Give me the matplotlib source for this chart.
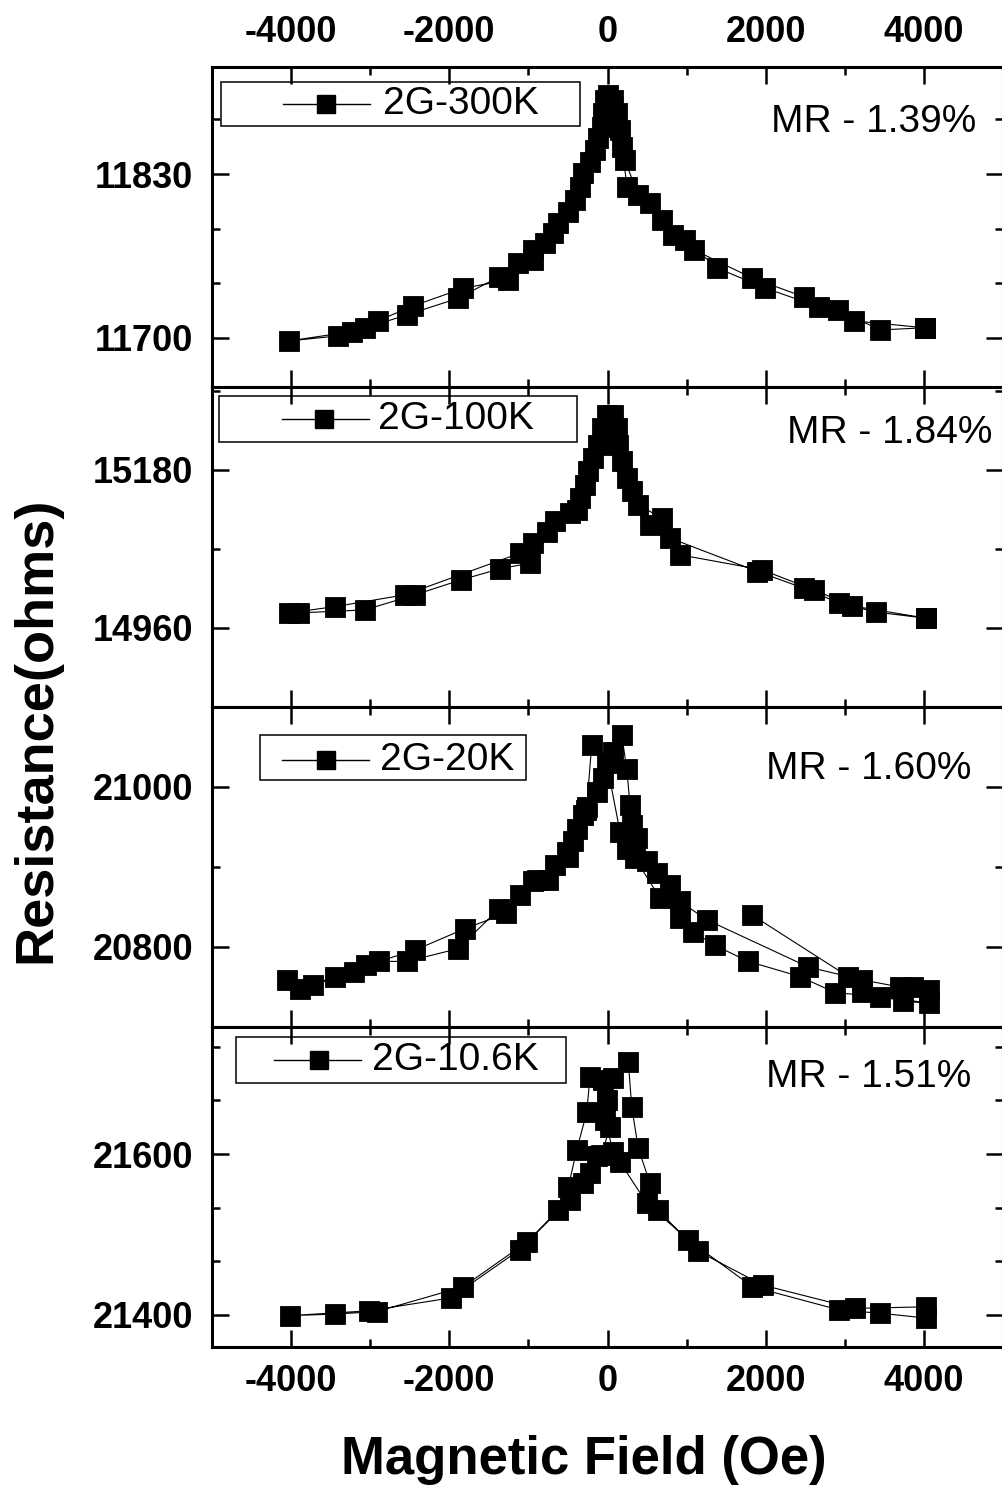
import matplotlib
matplotlib.use("Agg")
import matplotlib.pyplot as plt
from matplotlib.patches import Rectangle
from matplotlib.ticker import MultipleLocator

plt.rcParams['font.family'] = ['Liberation Sans', 'DejaVu Sans']
plt.rcParams['axes.unicode_minus'] = False

# 2G-300K : sweep down (+ -> -) then back up (- -> +)
field_300K = [4014, 3116, 2674, 1991, 1384, 980, 689, 386, 221, 158, 70, 6, -57, -120,
              -221, -348, -499, -689, -942, -1254, -1823, -2455, -2898, -3234, -4023,
              -3403, -3066, -2539, -1886, -1368, -1128, -938, -790, -626, -411, -310,
              -158, -70, -32, 120, 183, 247, 537, 828, 1094, 1827, 2484, 2914, 3445, 4014]
res_300K = [11708, 11713.5, 11724.6, 11739.6, 11755.5, 11777.7, 11793.5, 11813.4, 11841,
            11865, 11888.7, 11892.6, 11878.4, 11858.5, 11839.5, 11819.7, 11800, 11783.2,
            11769.8, 11746, 11739.4, 11725.4, 11713.7, 11705, 11697.6,
            11701.6, 11707.7, 11718.2, 11731.5, 11748.6, 11759.2, 11761.8, 11775.3,
            11791.2, 11809.4, 11830.8, 11849, 11867.3, 11888.7, 11878.4, 11851.4, 11820,
            11807, 11781.6, 11769.8, 11747.6, 11732.5, 11722.2, 11706.3, 11708]

# 2G-100K
field_100K = [4030, 3091, 2608, 1953, 917, 685, 389, 243, 137, 73, -73, -180, -284, -386,
              -664, -938, -980, -1359, -1852, -2434, -3069, -3900, -4026,
              -3439, -2560, -1106, -769, -474, -348, -243, -116, -10, 116, 180, 306, 537,
              790, 1896, 2479, 2932, 3397, 4030]
res_100K = [14973.5, 14990.6, 15012.9, 15040.8, 15061.6, 15112.7, 15131.3, 15168.4,
            15214.8, 15256.6, 15238, 15196.3, 15159, 15124.3, 15108, 15078, 15050,
            15042.2, 15026.8, 15006, 14985, 14980.9, 14980.9,
            14989.7, 15006, 15064, 15094, 15120, 15140.6, 15177.6, 15214.8, 15256.6,
            15238, 15191.6, 15149.8, 15103.4, 15084.9, 15038.4, 15015.3, 14994.4,
            14981.9, 14973.5]

# 2G-20K : short start segment, sweep down, sweep up
field_20K = [1827, 3044, 3214, 3740, 4060,
             3445, 2876, 2434, 1780, 1359, 1085, 917, 664, 348, 243, 158, -10, -200,
             -263, -306, -389, -432, -516, -664, -895, -1106, -1284, -1801, -2436, -3053,
             -3439, -3891, -4052,
             -3729, -3211, -2889, -2535, -1886, -1369, -948, -755, -496, -269, -137, -53,
             73, 180, 243, 284, 306, 369, 496, 622, 790, 917, 1254, 2538, 3214, 3698,
             3866, 4060]
res_20K = [20840, 20763, 20744, 20732, 20730,
           20738, 20743, 20763, 20782, 20802, 20819, 20836, 20861, 20911, 20923, 20944,
           21030, 21052, 20975, 20965, 20948, 20932, 20919, 20902, 20884, 20865, 20842,
           20823, 20796, 20777, 20763, 20748, 20759,
           20752, 20769, 20782, 20782, 20798, 20848, 20882, 20884, 20913, 20971, 20994,
           21011, 21044, 21065, 21023, 20978, 20953, 20936, 20907, 20892, 20878, 20857,
           20834, 20775, 20759, 20750, 20750, 20746]

# 2G-10.6K
field_10K = [4030, 3449, 2932, 1832, 1024, 496, 158, 73, -32, -53, -221, -263, -389,
             -496, -626, -1110, -1984, -3018, -4020,
             -3439, -2920, -1822, -1013, -474, -306, -221, -137, -76, 32, -10, 73, 263,
             306, 389, 537, 642, 1148, 1962, 3125, 4030]
res_10K = [21396, 21402, 21406, 21435, 21493, 21539, 21590, 21603, 21642, 21692, 21696,
           21652, 21605, 21559, 21530, 21481, 21421, 21405, 21399,
           21401, 21404, 21435, 21491, 21543, 21564, 21576, 21597, 21599, 21634, 21667,
           21694, 21715, 21659, 21607, 21564, 21530, 21479, 21437, 21408, 21410]

labels = ['2G-300K', '2G-100K', '2G-20K', '2G-10.6K']
mr_text = ['MR - 1.39%', 'MR - 1.84%', 'MR - 1.60%', 'MR - 1.51%']
fields = [field_300K, field_100K, field_20K, field_10K]
resist = [res_300K, res_100K, res_20K, res_10K]

ylims = [(11661, 11915), (14850, 15295), (20700, 21100), (21360, 21758)]
y_major = [130, 220, 200, 200]
y_minor = [130 / 3, 110, 100, 200 / 3]

# legend box (x0, y0, x1, y1), handle (x0, x1, marker x, y), text x  -- axes fraction
key_box = [(0.0114, 0.816, 0.4652, 0.953), (0.0088, 0.828, 0.4614, 0.972),
           (0.0607, 0.772, 0.397, 0.9125), (0.0303, 0.825, 0.4475, 0.969)]
key_handle = [(0.0898, 0.1997, 0.1441, 0.884), (0.0885, 0.1985, 0.142, 0.90),
              (0.0885, 0.1985, 0.1441, 0.834), (0.0784, 0.1884, 0.1353, 0.897)]
key_text_x = [0.2162, 0.2099, 0.2124, 0.2023]
mr_pos = [(0.707, 0.828), (0.727, 0.856), (0.700, 0.806), (0.700, 0.844)]


def add_key(ax, box, handle, text_x, label):
    """Draw an Origin style legend box by hand"""
    x0, y0, x1, y1 = box
    ax.add_patch(Rectangle((x0, y0), x1 - x0, y1 - y0, transform=ax.transAxes,
                           fill=False, ec='black', lw=1.1, zorder=5, clip_on=False))
    hx0, hx1, hm, hy = handle
    ax.plot([hx0, hx1], [hy, hy], transform=ax.transAxes, color='black', lw=1, zorder=5)
    ax.plot([hm], [hy], 's', transform=ax.transAxes, color='black', ms=12.5, zorder=6)
    ax.text(text_x, hy, label, transform=ax.transAxes, fontsize=28, va='center', ha='left')


fig = plt.figure(figsize=(10.02, 14.88), dpi=100)
left = 212 / 1002
width = 791 / 1002
panel_h = 320 / 1488
bottom0 = 1 - 1347 / 1488

axes = []
for i in range(4):
    ax = fig.add_axes([left, bottom0 + (3 - i) * panel_h, width, panel_h])
    axes.append(ax)

    ax.plot(fields[i], resist[i], '-s', color='black', lw=0.8, ms=13.8,
            mec='black', mfc='black', mew=0.6)

    ax.set_xlim(-5000, 5000)
    ax.set_ylim(*ylims[i])
    ax.xaxis.set_major_locator(MultipleLocator(2000))
    ax.xaxis.set_minor_locator(MultipleLocator(1000))
    ax.yaxis.set_major_locator(MultipleLocator(y_major[i]))
    ax.yaxis.set_minor_locator(MultipleLocator(y_minor[i]))

    ax.tick_params(which='both', direction='in', top=True, right=True, width=1.8,
                   labelbottom=(i == 3), labeltop=(i == 0))
    ax.tick_params(which='major', length=12)
    ax.tick_params(which='minor', length=6)
    ax.tick_params(axis='x', pad=12)
    ax.tick_params(axis='y', pad=13.5)
    for lab in ax.get_xticklabels() + ax.get_yticklabels():
        lab.set_fontsize(26)
        lab.set_fontweight('bold')
    for sp in ax.spines.values():
        sp.set_linewidth(2.2)

    add_key(ax, key_box[i], key_handle[i], key_text_x[i], labels[i])
    ax.text(mr_pos[i][0], mr_pos[i][1], mr_text[i], transform=ax.transAxes,
            fontsize=28, va='center', ha='left')

axes[3].set_xlabel('Magnetic Field (Oe)', fontsize=38, fontweight='bold')
axes[3].xaxis.set_label_coords(0.47, -0.275)
fig.text(0.036, 1 - 730 / 1488, 'Resistance(ohms)', rotation=90, fontsize=39,
         fontweight='bold', va='center', ha='center')

fig.savefig('out.png', dpi=100)
